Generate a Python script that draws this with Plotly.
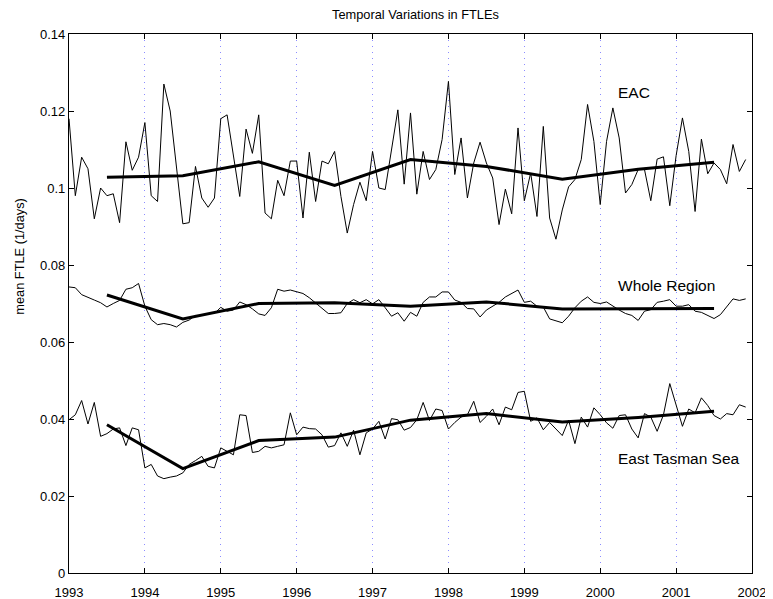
import plotly.graph_objects as go

# ---- data ----
start_year = 1993
n_months = 108

eac = [
    0.118, 0.098, 0.108, 0.105, 0.092, 0.100, 0.098, 0.0985, 0.091, 0.112, 0.1046, 0.108,
    0.117, 0.098, 0.0965, 0.127, 0.120, 0.1056, 0.0907, 0.091, 0.1056, 0.0974, 0.095, 0.0974,
    0.118, 0.119, 0.108, 0.0978, 0.1153, 0.109, 0.119, 0.0935, 0.092, 0.102, 0.098, 0.107,
    0.107, 0.0922, 0.1093, 0.0965, 0.107, 0.1063, 0.1095, 0.0978, 0.0883, 0.0957, 0.1015, 0.0967,
    0.1095, 0.100, 0.0996, 0.110, 0.1203, 0.101, 0.1195, 0.0984, 0.1095, 0.1022, 0.1048, 0.1126,
    0.1277, 0.1035, 0.113, 0.0974, 0.1065, 0.1119, 0.1065, 0.1026, 0.0905, 0.0997, 0.0933, 0.1156,
    0.0967, 0.1039, 0.0926, 0.116, 0.0922, 0.0867, 0.0943, 0.1003, 0.1022, 0.1074, 0.1217, 0.1121,
    0.0957, 0.1121, 0.1208, 0.113, 0.0987, 0.1009, 0.1048, 0.1048, 0.0967, 0.1075, 0.1081, 0.0954,
    0.1084, 0.1182, 0.1095, 0.0939, 0.1127, 0.1037, 0.1065, 0.1048, 0.1011, 0.1113, 0.1043, 0.1074,
]

whole = [
    0.0743, 0.0741, 0.0723, 0.0715, 0.0709, 0.0702, 0.0691, 0.0700, 0.0708, 0.0737, 0.0741, 0.0752,
    0.0693, 0.0658, 0.0645, 0.0648, 0.0645, 0.0639, 0.0651, 0.0657, 0.0669, 0.0669, 0.0674, 0.0674,
    0.0690, 0.0680, 0.0683, 0.0704, 0.0697, 0.0686, 0.0673, 0.0669, 0.0689, 0.0737, 0.0732, 0.0735,
    0.0730, 0.0726, 0.0715, 0.0702, 0.0689, 0.0674, 0.0674, 0.0676, 0.0700, 0.0710, 0.0702, 0.0710,
    0.0699, 0.0710, 0.0689, 0.0667, 0.0676, 0.0654, 0.0677, 0.0667, 0.0703, 0.0717, 0.0717, 0.0730,
    0.0730, 0.0709, 0.0703, 0.0687, 0.0686, 0.0665, 0.0683, 0.0693, 0.0703, 0.0717, 0.0726, 0.0735,
    0.0703, 0.0706, 0.0693, 0.0691, 0.0660, 0.0654, 0.0650, 0.0667, 0.0689, 0.0706, 0.0717, 0.0703,
    0.0700, 0.0704, 0.0693, 0.0683, 0.0674, 0.0669, 0.0656, 0.0680, 0.0684, 0.0703, 0.0706, 0.0710,
    0.0693, 0.0693, 0.0697, 0.0680, 0.0677, 0.0669, 0.0661, 0.0671, 0.0691, 0.0712, 0.0708, 0.0712,
]

tasman = [
    0.0398, 0.0411, 0.0448, 0.0387, 0.0443, 0.0355, 0.0362, 0.0374, 0.0377, 0.0331, 0.0377, 0.0372,
    0.0273, 0.0282, 0.0252, 0.0245, 0.0249, 0.0252, 0.0260, 0.0282, 0.0292, 0.0303, 0.0277, 0.0273,
    0.0325, 0.0316, 0.0307, 0.0411, 0.0409, 0.0313, 0.0316, 0.0329, 0.0325, 0.0329, 0.0333, 0.0416,
    0.0359, 0.0379, 0.0375, 0.0374, 0.0359, 0.0327, 0.0331, 0.0364, 0.0329, 0.0371, 0.0307, 0.0364,
    0.0374, 0.0394, 0.0348, 0.0401, 0.0398, 0.0371, 0.0378, 0.0398, 0.0443, 0.0396, 0.0426, 0.0422,
    0.0374, 0.0391, 0.0405, 0.0411, 0.0446, 0.0391, 0.0407, 0.0426, 0.0385, 0.0431, 0.0424, 0.0469,
    0.0472, 0.0394, 0.0403, 0.0372, 0.0391, 0.0374, 0.0357, 0.0397, 0.0336, 0.0405, 0.0379, 0.0429,
    0.0411, 0.0390, 0.0376, 0.0409, 0.0411, 0.0374, 0.0351, 0.0414, 0.0405, 0.0368, 0.0411, 0.0492,
    0.0435, 0.0381, 0.0426, 0.0416, 0.0455, 0.0435, 0.0409, 0.0400, 0.0414, 0.0411, 0.0437, 0.0431,
]

annual_x = [1993.5, 1994.5, 1995.5, 1996.5, 1997.5, 1998.5, 1999.5, 2000.5, 2001.5]
eac_annual = [0.1028, 0.1032, 0.1068, 0.1007, 0.1074, 0.1056, 0.1023, 0.1049, 0.1067]
whole_annual = [0.0722, 0.0660, 0.0700, 0.0702, 0.0693, 0.0704, 0.0686, 0.0687, 0.0687]
tasman_annual = [0.0385, 0.0271, 0.0344, 0.0353, 0.0397, 0.0414, 0.0392, 0.0404, 0.0420]

x_ticks = list(range(1993, 2003))
y_ticks = [0, 0.02, 0.04, 0.06, 0.08, 0.10, 0.12, 0.14]
y_tick_text = ["0", "0.02", "0.04", "0.06", "0.08", "0.1", "0.12", "0.14"]

labels = ["EAC", "Whole Region", "East Tasman Sea"]
label_pos = [(2000.21, 0.1248), (2000.21, 0.0747), (2000.21, 0.0297)]

title = "Temporal Variations in FTLEs"
ylabel = "mean FTLE (1/days)"

months = [start_year + i / 12 for i in range(n_months)]

FONT = "Liberation Sans, Arial, Helvetica, sans-serif"

fig = go.Figure()
for series in (eac, whole, tasman):
    fig.add_trace(go.Scatter(x=months, y=series, mode="lines",
                             line=dict(color="black", width=1), showlegend=False,
                             hoverinfo="skip"))
for series in (eac_annual, whole_annual, tasman_annual):
    fig.add_trace(go.Scatter(x=annual_x, y=series, mode="lines",
                             line=dict(color="black", width=3), showlegend=False,
                             hoverinfo="skip"))

for txt, (lx, ly) in zip(labels, label_pos):
    fig.add_annotation(x=lx, y=ly, xref="x", yref="y", text=txt, showarrow=False,
                       xanchor="left", yanchor="middle",
                       font=dict(family=FONT, size=15.5, color="black"))

fig.add_annotation(x=0.508, y=1.036, xref="paper", yref="paper", text=title,
                   showarrow=False, xanchor="center", yanchor="middle",
                   font=dict(family=FONT, size=12.8, color="black"))
fig.add_annotation(x=-0.073, y=0.587, xref="paper", yref="paper", text=ylabel,
                   showarrow=False, textangle=-90, xanchor="center", yanchor="middle",
                   font=dict(family=FONT, size=12.8, color="black"))

fig.update_xaxes(range=[1993, 2002], tickmode="array", tickvals=x_ticks,
                 ticktext=[str(v) for v in x_ticks],
                 showgrid=True, gridcolor="#8c8cff", griddash="1px,5px", gridwidth=1,
                 zeroline=False, showline=True, linecolor="black", linewidth=1.2,
                 mirror="ticks", ticks="inside", ticklen=5, tickcolor="black",
                 ticklabelstandoff=7,
                 tickfont=dict(family=FONT, size=13, color="black"), automargin=False)
fig.update_yaxes(range=[0, 0.14], tickmode="array", tickvals=y_ticks, ticktext=y_tick_text,
                 showgrid=False, zeroline=False, showline=True, linecolor="black",
                 linewidth=1.2, mirror="ticks", ticks="inside", ticklen=5, tickcolor="black",
                 tickfont=dict(family=FONT, size=13, color="black"), automargin=False)

# page body has an 8px margin; size/margins compensate so the axes land where the reference has them
fig.update_layout(width=765, height=591, plot_bgcolor="white", paper_bgcolor="white",
                  margin=dict(l=61, r=21, t=26, b=26), showlegend=False)

fig.write_html("out.html")
